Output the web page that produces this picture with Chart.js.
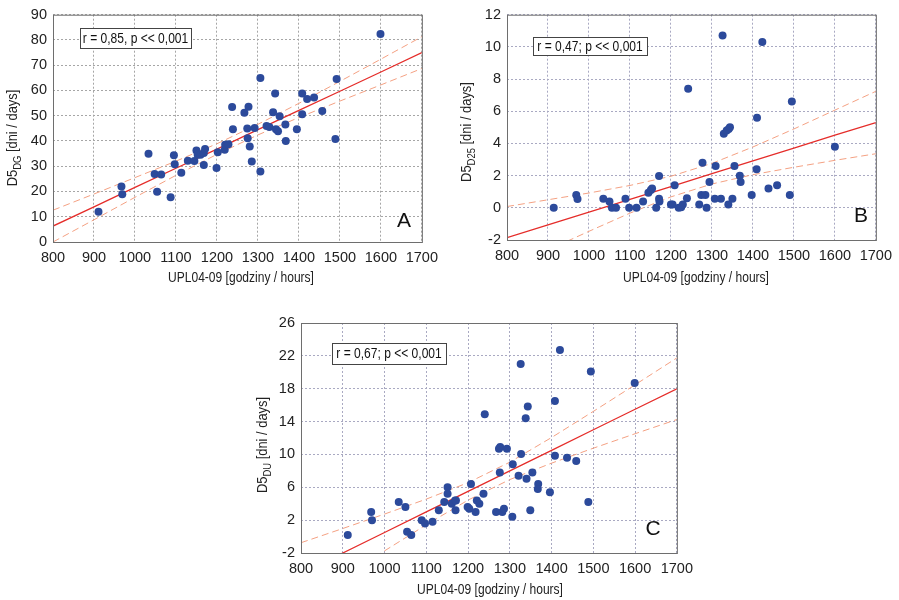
<!DOCTYPE html>
<html lang="pl">
<head>
<meta charset="UTF-8">
<title>D5 vs UPL04-09</title>
<script src="https://cdn.jsdelivr.net/npm/chart.js"></script>
<style>
    body { margin: 0; background: #fff; }
    #wrap { position: relative; width: 899px; height: 600px; overflow: hidden; }
    canvas { position: absolute; }
    #chartA { left: 0; top: 0; }
    #chartB { left: 450px; top: 0; }
    #chartC { left: 240px; top: 300px; }
</style>
</head>
<body>
<div id="wrap">
    <canvas id="chartA" width="445" height="290"></canvas>
    <canvas id="chartB" width="449" height="290"></canvas>
    <canvas id="chartC" width="460" height="300"></canvas>
</div>
<script>
// --- data ---
const hourTicks = [800, 900, 1000, 1100, 1200, 1300, 1400, 1500, 1600, 1700];
const fitHours  = [800, 900, 1000, 1100, 1200, 1300, 1400, 1500, 1600, 1700];

// A: D5 DG
const hoursA = [911,967,969,1033,1048,1054,1064,1087,1095,1097,1113,1129,1145,1150,1153,1160,1168,1171,1168,1199,1202,1219,1220,1228,1237,1239,1267,1277,1274,1275,1280,1285,1292,1306,1306,1321,1328,1337,1342,1344,1349,1353,1367,1368,1395,1408,1408,1420,1437,1457,1489,1492,1599];
const daysA  = [12.0,22.0,18.9,34.9,26.9,19.9,26.7,17.7,34.3,30.8,27.4,32.2,32.1,36.2,34.5,34.5,35.2,36.8,30.5,29.3,35.5,36.5,38.5,38.7,53.5,44.6,51.2,53.6,44.9,41.1,37.8,31.9,45.1,64.9,27.9,45.9,45.5,51.4,58.8,44.6,43.9,49.8,46.5,40.0,44.6,58.8,50.6,56.6,57.2,51.9,40.8,64.5,82.4];
const fitA   = [6.3, 13.9, 21.6, 29.2, 36.8, 44.5, 52.1, 59.7, 67.3, 75.0];
const upperA = [12.6, 19.0, 25.5, 32.0, 38.9, 46.6, 54.9, 63.6, 72.4, 81.3];
const lowerA = [0.0, 8.8, 17.7, 26.4, 34.7, 42.4, 49.3, 55.8, 62.2, 68.7];
const ticksA = [0, 10, 20, 30, 40, 50, 60, 70, 80, 90];

// B: D5 D25
const hoursB = [914,969,972,1035,1050,1056,1066,1089,1098,1116,1132,1145,1151,1154,1164,1171,1171,1172,1200,1204,1209,1219,1225,1229,1239,1242,1269,1277,1274,1284,1287,1294,1309,1307,1322,1326,1329,1336,1341,1344,1340,1350,1355,1368,1370,1397,1410,1409,1423,1438,1459,1490,1495,1600];
const daysB  = [0,0.8,0.55,0.57,0.39,0,0,0.57,0,0,0.39,0.94,1.1,1.2,0,1.98,0.57,0.39,0.2,0.2,1.4,0,0.04,0.2,0.6,7.4,0.2,2.8,0.8,0.8,0,1.6,2.6,0.57,0.57,10.7,4.6,4.8,4.9,5.0,0.2,0.57,2.6,2.0,1.6,0.8,5.6,2.4,10.3,1.2,1.4,0.8,6.6,3.8];
const fitB   = [-1.86, -1.06, -0.27, 0.53, 1.32, 2.12, 2.92, 3.71, 4.51, 5.30];
const upperB = [0.08, 0.50, 0.92, 1.39, 1.96, 2.76, 3.78, 4.90, 6.07, 7.24];
const lowerB = [-3.80, -2.62, -1.46, -0.33, 0.68, 1.48, 2.06, 2.52, 2.95, 3.36];
const ticksB = [-2, 0, 2, 4, 6, 8, 10, 12];

// C: D5 DU
const hoursC = [912,968,970,1034,1050,1054,1064,1089,1097,1115,1130,1143,1151,1151,1161,1169,1170,1171,1199,1203,1207,1218,1221,1227,1237,1240,1267,1274,1276,1277,1282,1286,1293,1306,1307,1321,1326,1327,1338,1340,1343,1349,1354,1368,1367,1396,1408,1408,1420,1437,1459,1488,1494,1599];
const daysC  = [0.2,3.0,2.0,4.2,3.6,0.6,0.2,2.0,1.6,1.8,3.2,4.2,6.0,5.2,4.0,4.4,3.2,4.4,3.6,3.4,6.4,3.0,4.4,4.0,5.2,14.9,3.0,10.7,7.8,10.9,3.0,3.4,10.7,2.4,8.8,7.4,21.0,10.05,14.4,7.05,15.85,3.2,7.8,6.4,5.8,5.4,16.5,9.85,22.7,9.6,9.2,4.2,20.1,18.7];
const fitC   = [-4.5, -2.0, 0.5, 3.0, 5.5, 8.0, 10.5, 13.0, 15.5, 18.0];
const upperC = [-0.75, 0.98, 2.74, 4.56, 6.56, 9.06, 12.06, 15.24, 18.48, 21.75];
const lowerC = [-8.25, -4.98, -1.74, 1.44, 4.44, 6.94, 8.94, 10.76, 12.52, 14.25];
const ticksC = [-2, 2, 6, 10, 14, 18, 22, 26];

const xTitle = 'UPL04-09 [godziny / hours]';
const FONT = "'Liberation Sans', Arial, sans-serif";
const SQUEEZE = 0.86; // the original lettering is horizontally condensed

const toPoints = (xs, ys) => xs.map((x, i) => ({ x: x, y: ys[i] }));

// frame, r-box, panel letter, axis titles (y title has a subscript)
const panelDecor = {
    id: 'panelDecor',
    afterDraw(chart, args, o) {
        const { ctx, chartArea: a } = chart;
        ctx.save();
        ctx.strokeStyle = '#6e6e6e';
        ctx.lineWidth = 1;
        ctx.strokeRect(a.left + 0.5, a.top + 0.5, a.right - a.left, a.bottom - a.top);

        const [bx, by, bw, bh] = o.box;
        ctx.fillStyle = '#fff';
        ctx.fillRect(bx, by, bw, bh);
        ctx.strokeStyle = '#444';
        ctx.strokeRect(bx + 0.5, by + 0.5, bw, bh);
        ctx.fillStyle = '#111';
        ctx.textAlign = 'center';
        ctx.textBaseline = 'middle';

        ctx.save();
        ctx.translate(bx + bw / 2, by + bh / 2 + 1);
        ctx.scale(SQUEEZE, 1);
        ctx.font = '14px ' + FONT;
        ctx.fillText(o.note, 0, 0);
        ctx.restore();

        ctx.font = '21px ' + FONT;
        ctx.fillText(o.letter, o.letterPos[0], o.letterPos[1]);

        // x title
        ctx.save();
        ctx.fillStyle = '#222';
        ctx.translate(o.xTitlePos[0], o.xTitlePos[1]);
        ctx.scale(SQUEEZE, 1);
        ctx.font = '14px ' + FONT;
        ctx.fillText(xTitle, 0, 0);
        ctx.restore();

        // rotated y title: D5 + subscript + rest
        ctx.translate(o.titlePos[0], o.titlePos[1]);
        ctx.rotate(-Math.PI / 2);
        ctx.scale(SQUEEZE, 1);
        ctx.textAlign = 'left';
        ctx.font = '15px ' + FONT;
        const w1 = ctx.measureText('D5').width;
        const w3 = ctx.measureText(' [dni / days]').width;
        ctx.font = '11px ' + FONT;
        const w2 = ctx.measureText(o.sub).width;
        const x = -(w1 + w2 + w3) / 2;
        ctx.fillStyle = '#222';
        ctx.font = '15px ' + FONT;
        ctx.fillText('D5', x, 0);
        ctx.font = '11px ' + FONT;
        ctx.fillText(o.sub, x + w1, 5);
        ctx.font = '15px ' + FONT;
        ctx.fillText(' [dni / days]', x + w1 + w2, 0);
        ctx.restore();
    }
};

function makePanel(id, p) {
    const band = (ys) => ({
        data: toPoints(fitHours, ys), showLine: true, pointRadius: 0,
        borderColor: '#f4a183', borderWidth: 1, borderDash: [7, 4], fill: false
    });
    new Chart(document.getElementById(id), {
        type: 'scatter',
        data: {
            datasets: [
                { data: toPoints(p.hours, p.days), pointRadius: 4, pointHoverRadius: 4,
                  backgroundColor: '#2c4a9b', borderWidth: 0 },
                { data: toPoints(fitHours, p.fit), showLine: true, pointRadius: 0,
                  borderColor: '#e52d2a', borderWidth: 1.3, fill: false },
                band(p.upper),
                band(p.lower)
            ]
        },
        options: {
            responsive: false,
            animation: false,
            layout: { padding: { top: p.padTop, right: p.padRight, left: 0, bottom: 0 } },
            plugins: {
                legend: { display: false },
                tooltip: { enabled: false },
                panelDecor: p.decor
            },
            scales: {
                x: {
                    type: 'linear', min: 800, max: 1700,
                    afterBuildTicks: s => { s.ticks = hourTicks.map(v => ({ value: v })); },
                    afterFit: s => { s.height = p.xHeight; },
                    grid: { color: p.gridColor, drawTicks: false, lineWidth: 1 },
                    border: { display: false, dash: [2, 2] },
                    ticks: { autoSkip: false, maxRotation: 0, padding: 7, color: '#222',
                             callback: v => String(v),
                             font: { family: FONT, size: 14.5 } }
                },
                y: {
                    type: 'linear', min: p.yTicks[0], max: p.yTicks[p.yTicks.length - 1],
                    afterBuildTicks: s => { s.ticks = p.yTicks.map(v => ({ value: v })); },
                    afterFit: s => { s.width = p.yWidth; },
                    grid: { color: p.gridColor, drawTicks: false, lineWidth: 1 },
                    border: { display: false, dash: [2, 2] },
                    ticks: { padding: 6, color: '#222', callback: v => String(v),
                             font: { family: FONT, size: 14.5 } }
                }
            }
        },
        plugins: [panelDecor]
    });
}

makePanel('chartA', {
    hours: hoursA, days: daysA, fit: fitA, upper: upperA, lower: lowerA, yTicks: ticksA,
    padTop: 12, padRight: 16, yWidth: 53, xHeight: 48, gridColor: '#a6a6a6',
    decor: { note: 'r = 0,85, p << 0,001', box: [80, 28, 111, 20], letter: 'A',
             letterPos: [404, 221], sub: 'DG', titlePos: [13, 138], xTitlePos: [241, 278] }
});
makePanel('chartB', {
    hours: hoursB, days: daysB, fit: fitB, upper: upperB, lower: lowerB, yTicks: ticksB,
    padTop: 12, padRight: 15, yWidth: 57, xHeight: 50, gridColor: '#a9a9c2',
    decor: { note: 'r = 0,47; p << 0,001', box: [83, 37, 114, 18], letter: 'B',
             letterPos: [411, 216], sub: 'D25', titlePos: [17, 132], xTitlePos: [246, 278] }
});
makePanel('chartC', {
    hours: hoursC, days: daysC, fit: fitC, upper: upperC, lower: lowerC, yTicks: ticksC,
    padTop: 23, padRight: 22, yWidth: 61, xHeight: 47, gridColor: '#a9a9c2',
    decor: { note: 'r = 0,67; p << 0,001', box: [92, 43, 114, 21], letter: 'C',
             letterPos: [413, 229], sub: 'DU', titlePos: [23, 145], xTitlePos: [250, 290] }
});
</script>
</body>
</html>
